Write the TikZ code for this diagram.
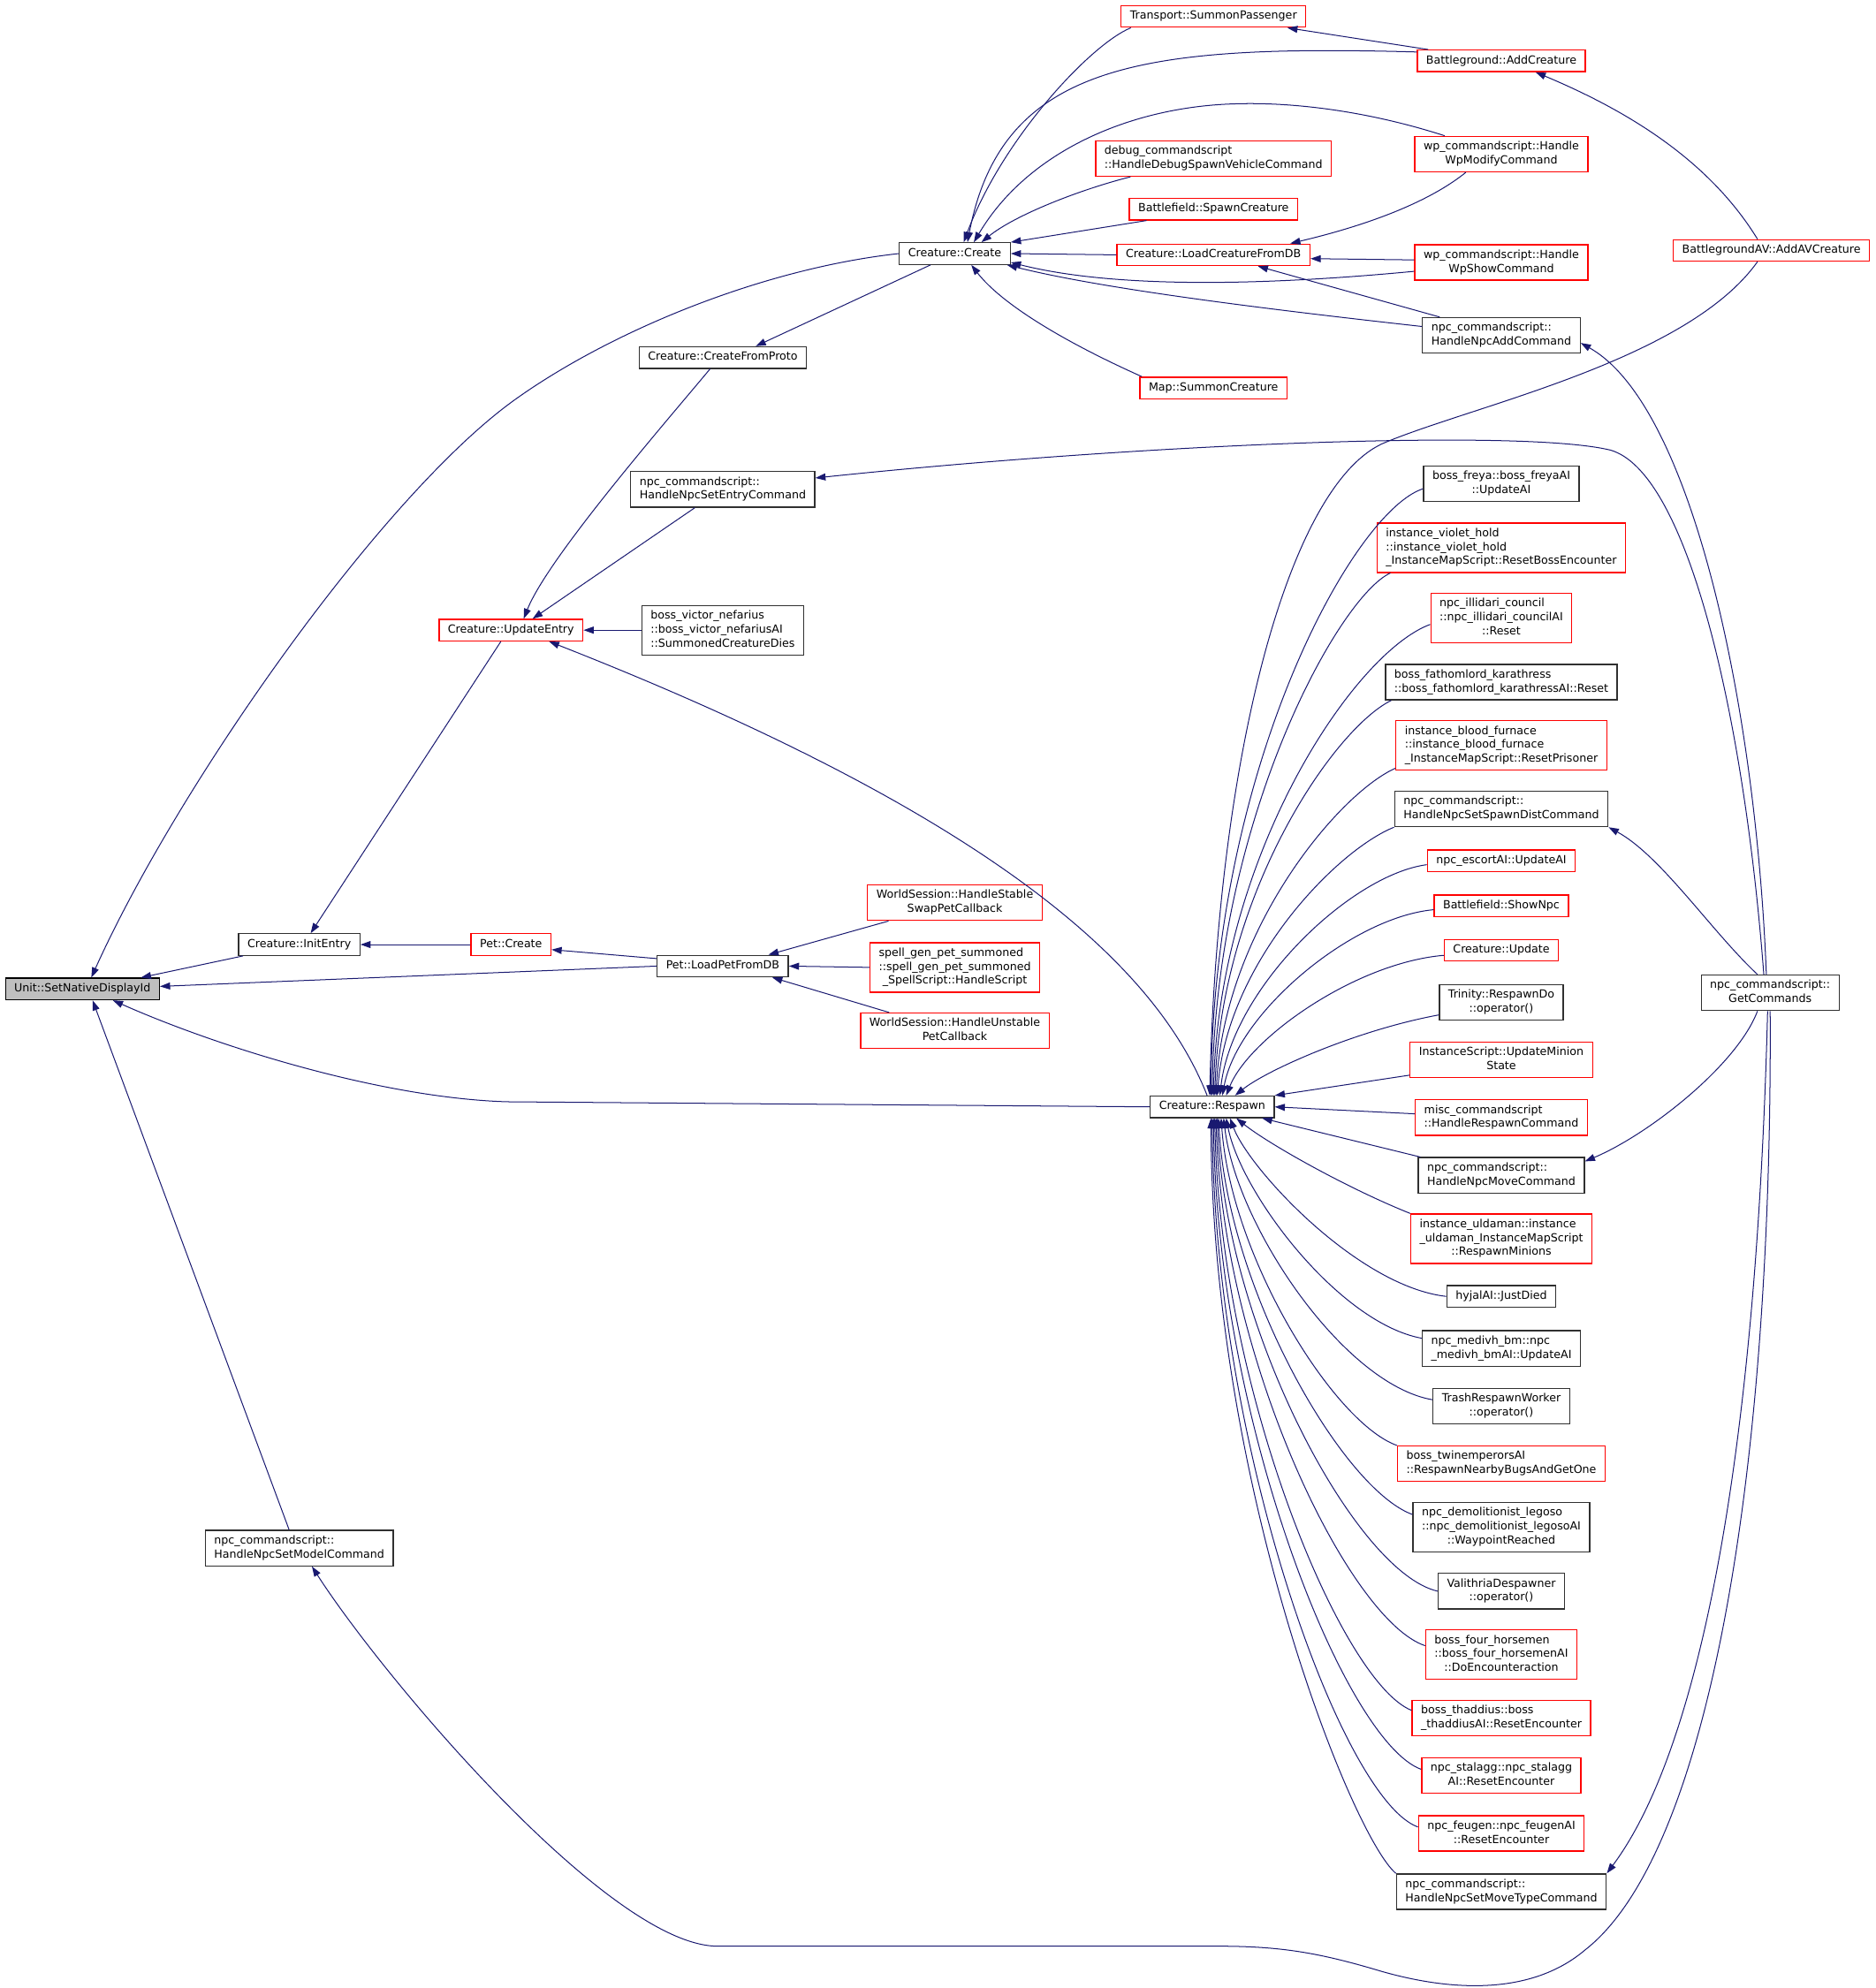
\documentclass[tikz,border=0pt]{standalone}
\usepackage{fontspec}
\setmainfont{DejaVu Sans}
\usetikzlibrary{arrows.meta}
\definecolor{edgeblue}{HTML}{191970}
\definecolor{hlgray}{HTML}{BFBFBF}
\definecolor{boxgray}{HTML}{303030}
\newcommand{\gfont}{\fontsize{8.8}{11}\selectfont}
\newcommand{\lab}[2]{\begin{tabular}{@{}l@{}}#1\\\multicolumn{1}{@{}c@{}}{#2}\end{tabular}}
\newcommand{\labb}[3]{\begin{tabular}{@{}l@{}}#1\\#2\\\multicolumn{1}{@{}c@{}}{#3}\end{tabular}}
\begin{document}
\begin{tikzpicture}[x = 1pt, y = -1pt,
    fnbox/.style = {draw = boxgray, line width = 0.9pt, fill = white, inner xsep = 7pt, inner ysep = 3pt, font = \gfont},
    fnred/.style = {fnbox, draw = red},
    sl/.style = {text height = 7.7pt, text depth = 3.3pt},
    call/.style = {draw = edgeblue, line width = 0.7pt, -{Triangle[length = 8pt, width = 5.5pt]}}]
\useasboundingbox (0,0) rectangle (1479,1568);

\node[fnbox, sl, fill = hlgray, draw = black] (unit) at (65,780) {Unit::SetNativeDisplayId};
\node[fnbox, sl] (initentry) at (236,745) {Creature::InitEntry};
\node[fnbox] (setmodel) at (236,1221) {\lab{npc\_commandscript::}{HandleNpcSetModelCommand}};
\node[fnred, sl] (updentry) at (403,497) {Creature::UpdateEntry};
\node[fnred, sl] (petcreate) at (403,745) {Pet::Create};
\node[fnbox, sl] (fromproto) at (570,282) {Creature::CreateFromProto};
\node[fnbox] (setentry) at (570,386) {\lab{npc\_commandscript::}{HandleNpcSetEntryCommand}};
\node[fnbox] (victor) at (570,497) {\labb{boss\_victor\_nefarius}{::boss\_victor\_nefariusAI}{::SummonedCreatureDies}};
\node[fnbox, sl] (loadpet) at (570,762) {Pet::LoadPetFromDB};
\node[fnbox, sl] (create) at (753,200) {Creature::Create};
\node[fnred] (stable) at (753,712) {\lab{WorldSession::HandleStable}{SwapPetCallback}};
\node[fnred] (spellgen) at (753,763) {\labb{spell\_gen\_pet\_summoned}{::spell\_gen\_pet\_summoned}{\_SpellScript::HandleScript}};
\node[fnred] (unstable) at (753,813) {\lab{WorldSession::HandleUnstable}{PetCallback}};

\node[fnred, sl] (summonpass) at (957,13) {Transport::SummonPassenger};
\node[fnred] (debugspawn) at (957,125) {\lab{debug\_commandscript}{::HandleDebugSpawnVehicleCommand}};
\node[fnred, sl] (bfspawn) at (957,165) {Battlefield::SpawnCreature};
\node[fnred, sl] (loaddb) at (957,201) {Creature::LoadCreatureFromDB};
\node[fnred, sl] (mapsummon) at (957,306) {Map::SummonCreature};
\node[fnbox, sl] (respawn) at (956,873) {Creature::Respawn};

\node[fnred, sl] (bgadd) at (1184,48) {Battleground::AddCreature};
\node[fnred] (wpmodify) at (1184,121.5) {\lab{wp\_commandscript::Handle}{WpModifyCommand}};
\node[fnred] (wpshow) at (1184,207) {\lab{wp\_commandscript::Handle}{WpShowCommand}};
\node[fnbox] (npcadd) at (1184,264.5) {\lab{npc\_commandscript::}{HandleNpcAddCommand}};
\node[fnbox] (freya) at (1184,381.5) {\lab{boss\_freya::boss\_freyaAI}{::UpdateAI}};
\node[fnred] (violet) at (1184,432) {\labb{instance\_violet\_hold}{::instance\_violet\_hold}{\_InstanceMapScript::ResetBossEncounter}};
\node[fnred] (illidari) at (1184,487.5) {\labb{npc\_illidari\_council}{::npc\_illidari\_councilAI}{::Reset}};
\node[fnbox] (fathom) at (1184,538) {\lab{boss\_fathomlord\_karathress}{::boss\_fathomlord\_karathressAI::Reset}};
\node[fnred] (blood) at (1184,588) {\labb{instance\_blood\_furnace}{::instance\_blood\_furnace}{\_InstanceMapScript::ResetPrisoner}};
\node[fnbox] (spawndist) at (1184,638) {\lab{npc\_commandscript::}{HandleNpcSetSpawnDistCommand}};
\node[fnred, sl] (escort) at (1184,679) {npc\_escortAI::UpdateAI};
\node[fnred, sl] (shownpc) at (1184,714.5) {Battlefield::ShowNpc};
\node[fnred, sl] (crupdate) at (1184,749.5) {Creature::Update};
\node[fnbox] (respawndo) at (1184,790.5) {\lab{Trinity::RespawnDo}{::operator()}};
\node[fnred] (minion) at (1184,836) {\lab{InstanceScript::UpdateMinion}{State}};
\node[fnred] (respcmd) at (1184,881.5) {\lab{misc\_commandscript}{::HandleRespawnCommand}};
\node[fnbox] (movecmd) at (1184,927) {\lab{npc\_commandscript::}{HandleNpcMoveCommand}};
\node[fnred] (uldaman) at (1184,977) {\labb{instance\_uldaman::instance}{\_uldaman\_InstanceMapScript}{::RespawnMinions}};
\node[fnbox, sl] (hyjal) at (1184,1022.5) {hyjalAI::JustDied};
\node[fnbox] (medivh) at (1184,1063.5) {\lab{npc\_medivh\_bm::npc}{\_medivh\_bmAI::UpdateAI}};
\node[fnbox] (trash) at (1184,1109) {\lab{TrashRespawnWorker}{::operator()}};
\node[fnred] (twin) at (1184,1154.5) {\lab{boss\_twinemperorsAI}{::RespawnNearbyBugsAndGetOne}};
\node[fnbox] (legoso) at (1184,1204.5) {\labb{npc\_demolitionist\_legoso}{::npc\_demolitionist\_legosoAI}{::WaypointReached}};
\node[fnbox] (valithria) at (1184,1255) {\lab{ValithriaDespawner}{::operator()}};
\node[fnred] (horsemen) at (1184,1305) {\labb{boss\_four\_horsemen}{::boss\_four\_horsemenAI}{::DoEncounteraction}};
\node[fnred] (thaddius) at (1184,1355) {\lab{boss\_thaddius::boss}{\_thaddiusAI::ResetEncounter}};
\node[fnred] (stalagg) at (1184,1400.5) {\lab{npc\_stalagg::npc\_stalagg}{AI::ResetEncounter}};
\node[fnred] (feugen) at (1184,1446) {\lab{npc\_feugen::npc\_feugenAI}{::ResetEncounter}};
\node[fnbox] (movetype) at (1184,1492) {\lab{npc\_commandscript::}{HandleNpcSetMoveTypeCommand}};

\node[fnred, sl] (bgav) at (1397,197.5) {BattlegroundAV::AddAVCreature};
\node[fnbox] (getcmds) at (1396,783) {\lab{npc\_commandscript::}{GetCommands}};

\draw[call] (create.west) .. controls (600,212) and (480,262) .. (405,316) .. controls (300,392) and (140,620) .. ([xshift=7pt]unit.north);
\draw[call] ([xshift=4pt]initentry.south west) -- ([xshift=-15pt]unit.north east);
\draw[call] (loadpet.west) -- ([yshift=2pt]unit.east);
\draw[call] (respawn.west) -- (400,869) .. controls (300,866) and (170,825) .. ([xshift=24pt]unit.south);
\draw[call] ([xshift=-8pt]setmodel.north) -- ([xshift=8pt]unit.south);
\draw[call] (getcmds.south) .. controls (1398,1150) and (1350,1460) .. (1250,1538) .. controls (1210,1572) and (1150,1572) .. (1090,1555) .. controls (1040,1540) and (1010,1535) .. (960,1535) -- (566,1535) .. controls (480,1535) and (300,1320) .. ([xshift=10pt]setmodel.south);

\draw[call] ([xshift=-8pt]updentry.south) -- ([xshift=9pt]initentry.north);
\draw[call] (petcreate.west) -- (initentry.east);
\draw[call] ([yshift=-3pt]loadpet.north west) -- ([yshift=-4pt]petcreate.east);
\draw[call] ([xshift=17pt]stable.south west) -- ([xshift=36pt]loadpet.north);
\draw[call] (spellgen.west) -- (loadpet.east);
\draw[call] ([xshift=23pt]unstable.north west) -- ([xshift=39pt]loadpet.south);

\draw[call] ([xshift=-10pt]fromproto.south) .. controls (525,333) and (432,440) .. ([xshift=10pt]updentry.north);
\draw[call] ([xshift=-22pt]setentry.south) -- ([xshift=17pt]updentry.north);
\draw[call] (victor.west) -- (updentry.east);
\draw[call] ([xshift=-4pt]respawn.north) .. controls (915,770) and (800,650) .. ([xshift=30pt]updentry.south);
\draw[call] ([xshift=25pt]create.south west) -- ([xshift=26pt]fromproto.north);

\draw[call] ([xshift=8pt]summonpass.south west) .. controls (860,35) and (790,110) .. ([xshift=7pt]create.north);
\draw[call] ([yshift=7pt]bgadd.west) .. controls (900,35) and (790,50) .. ([xshift=10pt]create.north);
\draw[call] ([xshift=24pt]wpmodify.north west) .. controls (1080,88) and (1020,80) .. (971,82) .. controls (890,85) and (810,120) .. ([xshift=15pt]create.north);
\draw[call] ([xshift=28pt]debugspawn.south west) .. controls (850,150) and (800,170) .. ([xshift=21pt]create.north);
\draw[call] ([xshift=14pt]bfspawn.south west) -- (create.north east);
\draw[call] (loaddb.west) -- (create.east);
\draw[call] ([yshift=-7pt]wpshow.west) .. controls (1000,225) and (880,228) .. ([yshift=2pt]create.south east);
\draw[call] ([yshift=7pt]npcadd.west) .. controls (1000,244) and (870,228) .. ([xshift=-3pt]create.south east);
\draw[call] ([xshift=2pt]mapsummon.north west) .. controls (840,270) and (790,240) .. ([xshift=13pt]create.south);

\draw[call] ([xshift=9pt]bgadd.north west) -- ([xshift=-15pt]summonpass.south east);
\draw[call] ([xshift=-11pt]bgav.north) .. controls (1350,130) and (1290,90) .. ([xshift=27pt]bgadd.south);
\draw[call] ([xshift=-28pt]wpmodify.south) .. controls (1120,165) and (1060,182) .. ([xshift=-16pt]loaddb.north east);
\draw[call] ([yshift=2pt]wpshow.west) -- ([yshift=-3pt]loaddb.east);
\draw[call] ([xshift=14pt]npcadd.north west) -- ([xshift=35pt]loaddb.south);

\draw[call] ([xshift=-3pt]getcmds.north) .. controls (1385,560) and (1335,320) .. ([yshift=-6pt]npcadd.east);
\draw[call] ([xshift=-5pt]getcmds.north) .. controls (1375,560) and (1330,372) .. (1270,355) .. controls (1200,338) and (900,350) .. ([yshift=9pt]setentry.east);
\draw[call] ([xshift=-10pt]getcmds.north) .. controls (1350,735) and (1310,675) .. (spawndist.south east);
\draw[call] ([xshift=-10pt]getcmds.south) .. controls (1370,840) and (1300,895) .. ([yshift=11pt]movecmd.east);
\draw[call] ([xshift=-2pt]getcmds.south) .. controls (1385,1150) and (1340,1380) .. (movetype.north east);

\draw[call] ([xshift=-11pt]bgav.south) .. controls (1330,285) and (1160,320) .. (1090,350) .. controls (1015,385) and (960,600) .. ([xshift=-2pt]respawn.north);
\draw[call] ([yshift=-4pt]freya.west) .. controls +(-55,18) and +(2,-260) .. ([xshift=-1pt]respawn.north);
\draw[call] ([xshift=11pt]violet.south west) .. controls +(-40,18) and +(3,-220) .. (respawn.north);
\draw[call] ([yshift=-5pt]illidari.west) .. controls +(-60,22) and +(4,-190) .. ([xshift=1pt]respawn.north);
\draw[call] ([xshift=5pt]fathom.south west) .. controls +(-45,22) and +(5,-160) .. ([xshift=2pt]respawn.north);
\draw[call] ([yshift=2pt]blood.south west) .. controls +(-45,20) and +(6,-130) .. ([xshift=3pt]respawn.north);
\draw[call] (spawndist.south west) .. controls +(-45,18) and +(8,-105) .. ([xshift=4pt]respawn.north);
\draw[call] ([yshift=-3pt]escort.west) .. controls +(-60,8) and +(10,-85) .. ([xshift=6pt]respawn.north);
\draw[call] ([yshift=-3pt]shownpc.west) .. controls +(-65,6) and +(12,-65) .. ([xshift=8pt]respawn.north);
\draw[call] ([yshift=-4pt]crupdate.west) .. controls +(-70,6) and +(18,-45) .. ([xshift=11pt]respawn.north);
\draw[call] ([yshift=-10pt]respawndo.west) .. controls +(-65,12) and +(25,-20) .. ([xshift=18pt]respawn.north);
\draw[call] ([yshift=-12pt]minion.west) -- (respawn.north east);
\draw[call] ([yshift=3pt]respcmd.west) -- (respawn.east);
\draw[call] ([xshift=2pt]movecmd.north west) -- ([xshift=-10pt]respawn.south east);
\draw[call] (uldaman.north west) .. controls +(-50,-20) and +(25,20) .. ([xshift=19pt]respawn.south);
\draw[call] (hyjal.west) .. controls +(-70,-8) and +(15,40) .. ([xshift=14pt]respawn.south);
\draw[call] ([yshift=8pt]medivh.west) .. controls +(-65,-12) and +(12,60) .. ([xshift=11pt]respawn.south);
\draw[call] ([yshift=5pt]trash.west) .. controls +(-70,-12) and +(10,85) .. ([xshift=9pt]respawn.south);
\draw[call] (twin.north west) .. controls +(-50,-18) and +(8,110) .. ([xshift=7pt]respawn.south);
\draw[call] ([yshift=10pt]legoso.west) .. controls +(-55,-20) and +(7,135) .. ([xshift=5pt]respawn.south);
\draw[call] (valithria.west) .. controls +(-65,-15) and +(6,165) .. ([xshift=4pt]respawn.south);
\draw[call] ([yshift=7pt]horsemen.west) .. controls +(-60,-20) and +(5,190) .. ([xshift=3pt]respawn.south);
\draw[call] ([yshift=6pt]thaddius.west) .. controls +(-55,-22) and +(4,215) .. ([xshift=2pt]respawn.south);
\draw[call] ([yshift=5pt]stalagg.west) .. controls +(-60,-22) and +(3,240) .. ([xshift=1pt]respawn.south);
\draw[call] ([yshift=5pt]feugen.west) .. controls +(-60,-22) and +(2,260) .. (respawn.south);
\draw[call] (movetype.north west) .. controls +(-35,-30) and +(1,290) .. ([xshift=-1pt]respawn.south);
\end{tikzpicture}
\end{document}
